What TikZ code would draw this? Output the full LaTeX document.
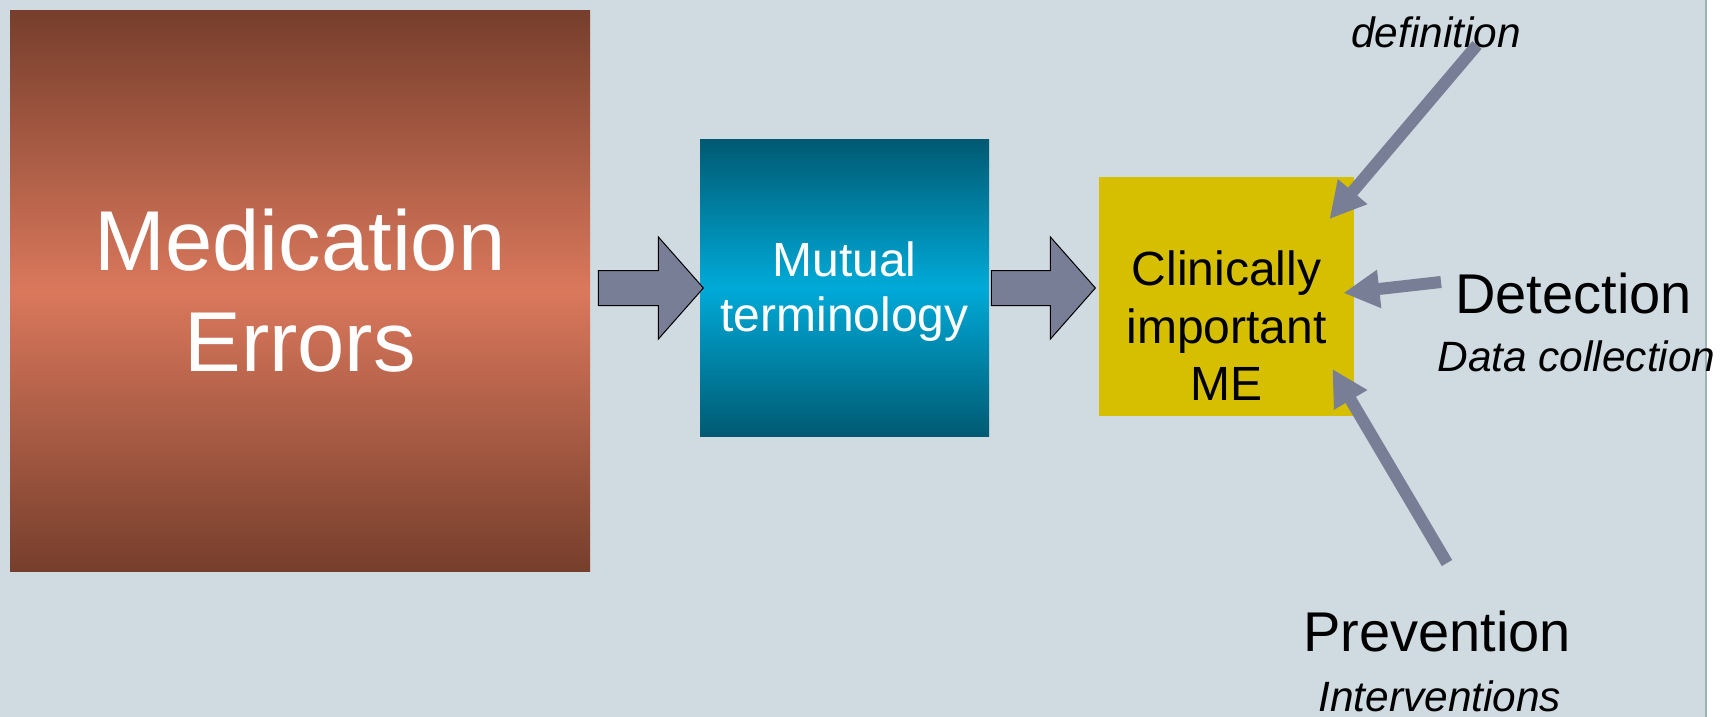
\documentclass[tikz,border=0pt]{standalone}
\usepackage{fontspec}
\setmainfont{Liberation Sans}
\usepackage{tikz}
\usetikzlibrary{arrows.meta,positioning,calc,shapes}

\definecolor{slide}{HTML}{CFDBE0}
\definecolor{slideedge}{HTML}{9EB2B8}
\definecolor{brownend}{HTML}{763E2C}
\definecolor{brownmid}{HTML}{DA785C}
\definecolor{tealend}{HTML}{005A72}
\definecolor{tealmid}{HTML}{00AAD8}
\definecolor{mustard}{HTML}{D5BF00}
\definecolor{slate}{HTML}{777E96}

\tikzset{every node/.append style={inner sep=0pt}}

\begin{document}
\begin{tikzpicture}[x=0.5pt,y=-0.5pt,
	medbox/.style={minimum width=290pt,minimum height=280.5pt,top color=brownend,bottom color=brownend,middle color=brownmid,text=white,align=center,font=\fontsize{42.5}{50.5}\selectfont},
	termbox/.style={minimum width=144.5pt,minimum height=148pt,top color=tealend,bottom color=tealend,middle color=tealmid},
	termtext/.style={text=white,align=center,font=\fontsize{24}{27.5}\selectfont},
	clinbox/.style={minimum width=127.5pt,minimum height=119pt,fill=mustard},
	clintext/.style={align=center,font=\fontsize{24}{28.75}\selectfont},
	bigword/.style={anchor=base west,font=\fontsize{28}{34}\selectfont},
	smallword/.style={anchor=base west,font=\fontsize{21.2}{25}\selectfont\itshape},
	blkarrow/.style={draw=black,line width=0.5pt,fill=slate,line join=miter},
	feed/.style={draw=slate,line width=6pt,-{Triangle[length=18pt,width=18pt]}}]
	\useasboundingbox (0,0) rectangle (1720,717);
	\fill[white] (0,0) rectangle (1720,717);
	\fill[slide] (0,0) rectangle (1705,717);
	\draw[slideedge,line width=1pt] (1706,0) -- (1706,717);

	% boxes
	\node[medbox] (med) at (300,291) {Medication\\Errors};
	\node[termbox] (term) at (844.5,288) {};
	\node[termtext] (termtxt) at (844.5,292) {Mutual\\terminology};
	\node[clinbox] (clin) at (1226.5,296.5) {};
	\node[clintext] (clintxt) at (1226.5,326) {Clinically\\important\\ME};

	% block arrows
	\coordinate (a1) at (med.east |- term.west);
	\coordinate (a2) at (term.east);
	\draw[blkarrow] ($(a1)+(8,0)$) ++(0,-17.5) -- ++(60,0) -- ++(0,-33.5) -- ++(45,51) -- ++(-45,51) -- ++(0,-33.5) -- ++(-60,0) -- cycle;
	\draw[blkarrow] ($(a2)+(2,0)$) ++(0,-17.5) -- ++(59,0) -- ++(0,-33.5) -- ++(45,51) -- ++(-45,51) -- ++(0,-33.5) -- ++(-59,0) -- cycle;

	% labels
	\node[smallword] (defn) at (1351,48) {definition};
	\node[bigword] (detect) at (1455,313) {Detection};
	\node[smallword] (datacoll) at (1437,371) {Data collection};
	\node[bigword] (prevent) at (1303,651) {Prevention};
	\node[smallword] (interv) at (1318,711) {Interventions};

	% feeding arrows
	\coordinate (deftail) at (1477,45);
	\coordinate (dettail) at (1441,282);
	\coordinate (prevtail) at (1447,563);
	\coordinate (deftip) at ($(clin.north east)+(-25,42)$);
	\coordinate (dettip) at ($(clin.east)+(-11,-3.5)$);
	\coordinate (prevtip) at ($(clin.south east)+(-22,-47)$);
	\draw[feed] (deftail) -- (deftip);
	\draw[feed] (dettail) -- (dettip);
	\draw[feed] (prevtail) -- (prevtip);
\end{tikzpicture}
\end{document}
